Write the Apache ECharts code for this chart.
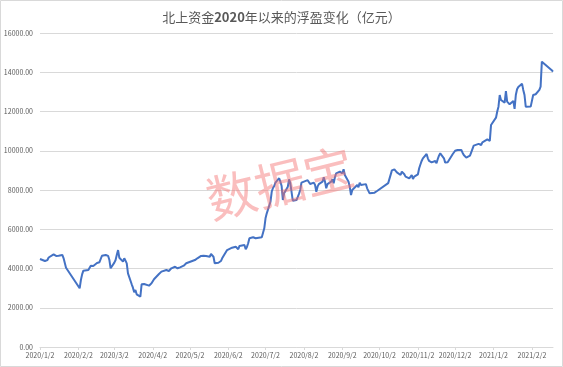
<!DOCTYPE html>
<html lang="zh">
<head>
<meta charset="UTF-8">
<title>北上资金2020年以来的浮盈变化</title>
<style>
  html, body { margin: 0; padding: 0; background: #fff; }
  #chart { width: 563px; height: 367px; }
</style>
</head>
<body>
<div id="chart"></div>
<script src="https://cdn.jsdelivr.net/npm/echarts@6/dist/echarts.min.js"></script>
<script>
// 交易日（读图估算）
var dates = [
  '2020-01-02','2020-01-03','2020-01-06','2020-01-07','2020-01-08','2020-01-09','2020-01-10','2020-01-13','2020-01-14','2020-01-15','2020-01-16','2020-01-17','2020-01-20','2020-01-21','2020-01-22','2020-01-23',
  '2020-02-03','2020-02-04','2020-02-05','2020-02-06','2020-02-07','2020-02-10','2020-02-11','2020-02-12','2020-02-13','2020-02-14','2020-02-17','2020-02-18','2020-02-19','2020-02-20','2020-02-21','2020-02-24','2020-02-25','2020-02-26','2020-02-27','2020-02-28',
  '2020-03-02','2020-03-03','2020-03-04','2020-03-05','2020-03-06','2020-03-09','2020-03-10','2020-03-11','2020-03-12','2020-03-13','2020-03-16','2020-03-17','2020-03-18','2020-03-19','2020-03-20','2020-03-23','2020-03-24','2020-03-25','2020-03-26','2020-03-27','2020-03-30','2020-03-31',
  '2020-04-01','2020-04-02','2020-04-03','2020-04-07','2020-04-08','2020-04-09','2020-04-10','2020-04-13','2020-04-14','2020-04-15','2020-04-16','2020-04-17','2020-04-20','2020-04-21','2020-04-22','2020-04-23','2020-04-24','2020-04-27','2020-04-28','2020-04-29','2020-04-30',
  '2020-05-06','2020-05-07','2020-05-08','2020-05-11','2020-05-12','2020-05-13','2020-05-14','2020-05-15','2020-05-18','2020-05-19','2020-05-20','2020-05-21','2020-05-22','2020-05-25','2020-05-26','2020-05-27','2020-05-28','2020-05-29',
  '2020-06-01','2020-06-02','2020-06-03','2020-06-04','2020-06-05','2020-06-08','2020-06-09','2020-06-10','2020-06-11','2020-06-12','2020-06-15','2020-06-16','2020-06-17','2020-06-18','2020-06-19','2020-06-22','2020-06-23','2020-06-24','2020-06-29','2020-06-30',
  '2020-07-01','2020-07-02','2020-07-03','2020-07-06','2020-07-07','2020-07-08','2020-07-09','2020-07-10','2020-07-13','2020-07-14','2020-07-15','2020-07-16','2020-07-17','2020-07-20','2020-07-21','2020-07-22','2020-07-23','2020-07-24','2020-07-27','2020-07-28','2020-07-29','2020-07-30','2020-07-31',
  '2020-08-03','2020-08-04','2020-08-05','2020-08-06','2020-08-07','2020-08-10','2020-08-11','2020-08-12','2020-08-13','2020-08-14','2020-08-17','2020-08-18','2020-08-19','2020-08-20','2020-08-21','2020-08-24','2020-08-25','2020-08-26','2020-08-27','2020-08-28','2020-08-31',
  '2020-09-01','2020-09-02','2020-09-03','2020-09-04','2020-09-07','2020-09-08','2020-09-09','2020-09-10','2020-09-11','2020-09-14','2020-09-15','2020-09-16','2020-09-17','2020-09-18','2020-09-21','2020-09-22','2020-09-23','2020-09-24','2020-09-25','2020-09-28','2020-09-29','2020-09-30',
  '2020-10-09','2020-10-12','2020-10-13','2020-10-14','2020-10-15','2020-10-16','2020-10-19','2020-10-20','2020-10-21','2020-10-22','2020-10-23','2020-10-26','2020-10-27','2020-10-28','2020-10-29','2020-10-30',
  '2020-11-02','2020-11-03','2020-11-04','2020-11-05','2020-11-06','2020-11-09','2020-11-10','2020-11-11','2020-11-12','2020-11-13','2020-11-16','2020-11-17','2020-11-18','2020-11-19','2020-11-20','2020-11-23','2020-11-24','2020-11-25','2020-11-26','2020-11-27','2020-11-30',
  '2020-12-01','2020-12-02','2020-12-03','2020-12-04','2020-12-07','2020-12-08','2020-12-09','2020-12-10','2020-12-11','2020-12-14','2020-12-15','2020-12-16','2020-12-17','2020-12-18','2020-12-21','2020-12-22','2020-12-23','2020-12-24','2020-12-25','2020-12-28','2020-12-29','2020-12-30','2020-12-31',
  '2021-01-04','2021-01-05','2021-01-06','2021-01-07','2021-01-08','2021-01-11','2021-01-12','2021-01-13','2021-01-14','2021-01-15','2021-01-18','2021-01-19','2021-01-20','2021-01-21','2021-01-22','2021-01-25','2021-01-26','2021-01-27','2021-01-28','2021-01-29',
  '2021-02-01','2021-02-02','2021-02-03','2021-02-04','2021-02-05','2021-02-08','2021-02-09','2021-02-10','2021-02-18','2021-02-19'
];

// 浮盈（亿元）
var values = [
  4485,4420,4380,4400,4430,4560,4650,4720,4700,4640,4630,4650,4690,4530,4430,4040,
  2990,3415,3700,3890,3900,3920,3955,4145,4100,4130,4280,4350,4320,4350,4650,4690,4660,4640,4430,4010,
  4300,4430,4700,4940,4550,4350,4520,4400,4265,3755,3195,3025,2785,2905,2685,2565,3195,3245,3210,3160,3125,3200,
  3245,3330,3450,3720,3780,3840,3800,3925,3950,3875,3950,4010,4090,4040,4010,4040,4060,4145,4200,4265,4350,
  4430,4480,4520,4640,4570,4650,4720,4640,4600,4740,4700,4600,4265,4295,4350,4380,4520,4600,
  4940,4980,5000,5030,5060,5110,5050,4980,5150,5170,5200,4980,5100,5285,5540,5590,5560,5540,5590,5825,
  6050,6560,6810,7400,7910,8100,8205,8375,8600,8425,8200,7490,7830,8170,8545,8350,7900,7455,7490,7575,7800,8000,8375,
  8450,8545,8500,8510,8305,8375,8255,7910,8170,8300,8425,8650,8425,8085,8300,8425,8545,8340,8650,8850,8935,
  9020,8850,9055,8765,8425,8150,7745,8000,8085,8255,8135,8375,8255,8340,8300,8085,8170,7830,7830,7865,7880,7950,
  8350,9000,9055,9050,9020,8900,8765,8935,8850,8800,8680,8595,8510,8765,8560,8680,
  8800,9105,9300,9480,9615,9835,9615,9480,9565,9410,9480,9360,9580,9750,9870,9615,9395,9480,9410,9445,9820,
  9870,10000,10075,10040,10040,9900,9785,9700,9650,9750,9920,9950,10260,10210,10350,10430,10295,10430,10500,10580,10635,10500,11315,
  11685,12000,12245,12840,12585,12450,13045,12500,12415,12365,12535,12130,12840,13130,13250,13420,13100,12840,12245,12165,
  12250,12330,12840,12860,12880,13100,13265,14540,14100,14030
];

var tickLabels = ['2020/1/2','2020/2/2','2020/3/2','2020/4/2','2020/5/2','2020/6/2','2020/7/2',
  '2020/8/2','2020/9/2','2020/10/2','2020/11/2','2020/12/2','2021/1/2','2021/2/2'];

function toTime(s) {
  var p = s.split(/[-\/]/);
  return new Date(+p[0], +p[1] - 1, +p[2]).getTime();
}
function fmtDate(v) {
  var d = new Date(v);
  return d.getFullYear() + '/' + (d.getMonth() + 1) + '/' + d.getDate();
}

var font = '"Noto Sans CJK SC", "Noto Sans", sans-serif';
var tickTimes = tickLabels.map(toTime);
var seriesData = dates.map(function (d, i) { return [toTime(d), values[i]]; });

var chart = echarts.init(document.getElementById('chart'));
chart.setOption({
  animation: false,
  title: {
    text: '{a|北上资金}{b|2020}{a|年以来的浮盈变化（亿元）}',
    left: 'center',
    top: 6,
    textStyle: {
      fontWeight: 'normal',
      rich: {
        a: { fontSize: 13, fontWeight: 'normal', color: '#595959', fontFamily: font },
        b: { fontSize: 13, fontWeight: 'bold', color: '#595959', fontFamily: font }
      }
    }
  },
  grid: { left: 40, right: 10, top: 33, bottom: 20 },
  xAxis: {
    // 用时间戳做数值轴，刻度按每月2日
    type: 'value',
    min: toTime(dates[0]),
    max: toTime(dates[dates.length - 1]),
    axisLine: { show: true, lineStyle: { color: '#d9d9d9' } },
    axisTick: { show: true, customValues: tickTimes, length: 3, lineStyle: { color: '#d9d9d9' } },
    axisLabel: {
      customValues: tickTimes,
      formatter: fmtDate,
      fontSize: 7,
      color: '#595959',
      fontFamily: font,
      margin: 5
    },
    splitLine: { show: false }
  },
  yAxis: {
    type: 'value',
    min: 0,
    max: 16000,
    interval: 2000,
    axisLine: { show: false },
    axisTick: { show: false },
    axisLabel: {
      formatter: function (v) { return v.toFixed(2); },
      fontSize: 7,
      color: '#595959',
      fontFamily: font,
      margin: 7
    },
    splitLine: { lineStyle: { color: '#d9d9d9', width: 1 } }
  },
  series: [{
    type: 'line',
    data: seriesData,
    symbol: 'none',
    lineStyle: { color: '#4472C4', width: 2 },
    itemStyle: { color: '#4472C4' }
  }],
  graphic: [
    {
      type: 'rect',
      shape: { x: 0.5, y: 0.5, width: 562, height: 366 },
      style: { fill: 'none', stroke: '#d9d9d9', lineWidth: 1 },
      silent: true
    },
    {
      type: 'text',
      x: 280,
      y: 183,
      rotation: 14 * Math.PI / 180,
      z: 100,
      silent: true,
      style: {
        text: '数据宝',
        font: '50px "Noto Sans CJK SC"',
        fill: 'rgba(245, 110, 110, 0.45)',
        align: 'center',
        verticalAlign: 'middle'
      }
    }
  ]
});
</script>
</body>
</html>
